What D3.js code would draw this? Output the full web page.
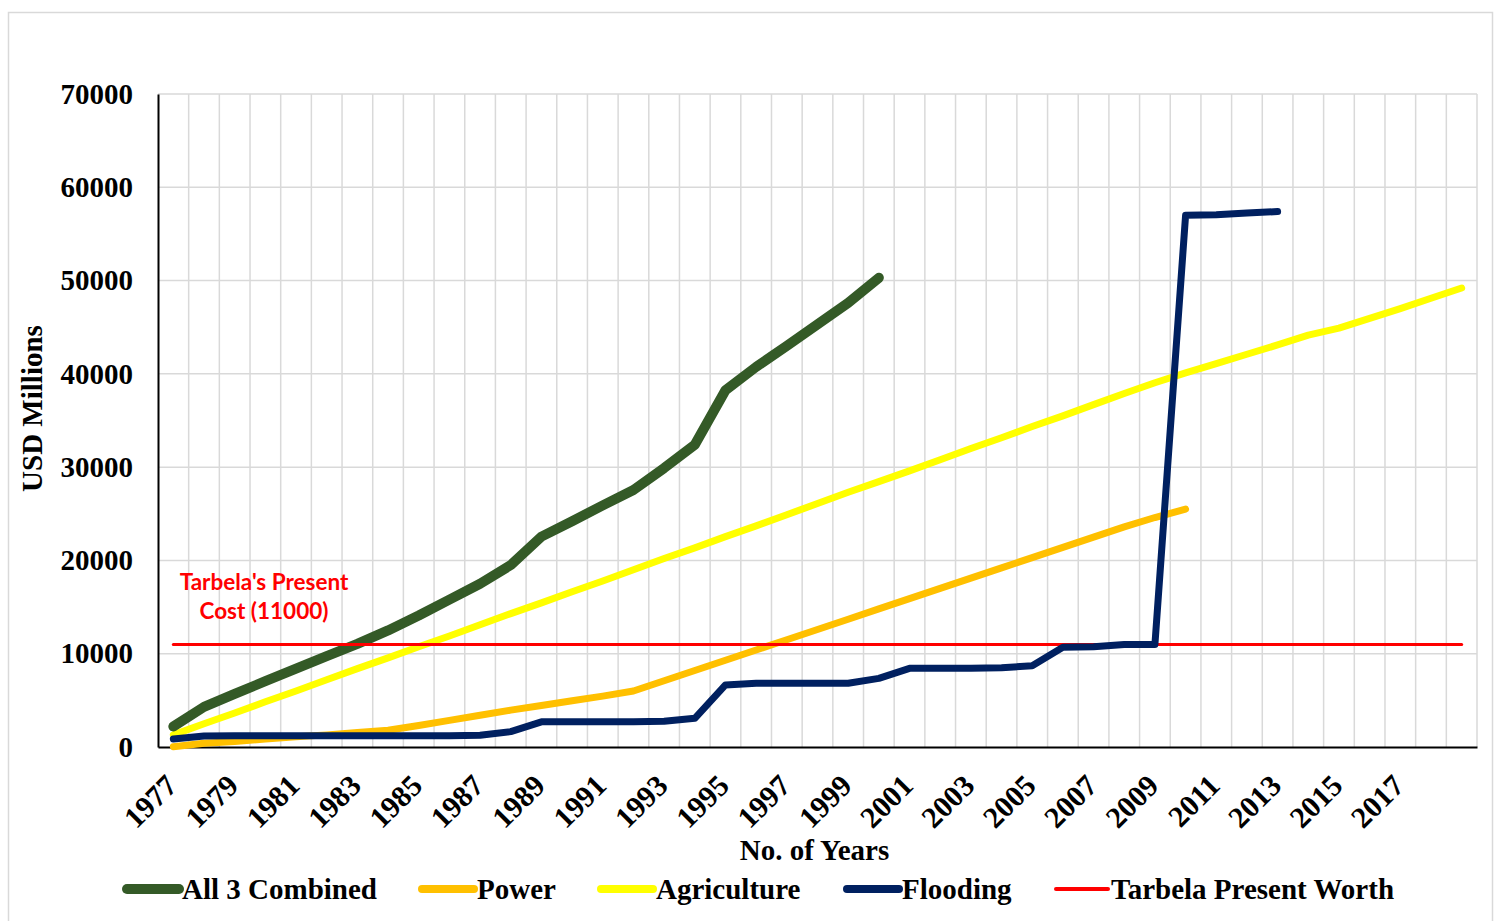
<!DOCTYPE html>
<html>
<head>
<meta charset="utf-8">
<script src="https://cdn.jsdelivr.net/npm/d3@7"></script>
<style>
  body { margin: 0; background: #fff; }
  svg { display: block; }
</style>
</head>
<body>
<div id="chart"></div>
<script>
// years on the category axis
const years = d3.range(1977, 2020);

// series values (USD millions)
const combined = [2200, 4300, 5700, 7050, 8400, 9750, 11050, 12500, 14100, 15800, 17500, 19500,
                  22550, 24200, 25900, 27550, 29900, 32400, 38250, 40750, 43000, 45300, 47600, 50300];
const power = [30, 400, 600, 850, 1100, 1300, 1550, 1800, 2300, 2850, 3400, 3950, 4450, 4950, 5450, 6000,
               7100, 8200, 9300, 10400, 11500, 12600, 13700, 14800, 15900, 17000, 18100, 19200, 20300,
               21400, 22500, 23600, 24600, 25500];
const agriculture = [1300, 2500, 3650, 4850, 6000, 7200, 8400, 9550, 10750, 11900, 13100, 14300, 15450,
                     16650, 17800, 19000, 20200, 21350, 22550, 23700, 24900, 26100, 27300, 28450, 29600,
                     30800, 32000, 33150, 34350, 35500, 36700, 37900, 39050, 40100, 41100, 42100, 43100,
                     44150, 44900, 45950, 47000, 48100, 49200];
const flooding = [860, 1180, 1200, 1200, 1200, 1200, 1200, 1200, 1200, 1200, 1250, 1650, 2700, 2700,
                  2700, 2700, 2750, 3080, 6650, 6830, 6830, 6830, 6830, 7360, 8430, 8450, 8450, 8500,
                  8700, 10700, 10750, 11000, 11000, 57000, 57050, 57250, 57400];
const presentWorth = years.map(() => 11000);

const yTicks = [0, 10000, 20000, 30000, 40000, 50000, 60000, 70000];
const xTickYears = years.filter(y => (y - 1977) % 2 === 0 && y <= 2017);

const series = [
    {name: 'All 3 Combined', values: combined, color: '#345a27', width: 10},
    {name: 'Power', values: power, color: '#ffc000', width: 7},
    {name: 'Agriculture', values: agriculture, color: '#ffff00', width: 7},
    {name: 'Flooding', values: flooding, color: '#002060', width: 7},
    {name: 'Tarbela Present Worth', values: presentWorth, color: '#ff0000', width: 3}
];
// drawing order: agriculture/power under combined, flooding on top of power
const drawOrder = ['Agriculture', 'Power', 'All 3 Combined', 'Tarbela Present Worth', 'Flooding'];

const serif = '"Liberation Serif", "Times New Roman", serif';
const W = 1499, H = 921;
const margin = {top: 94, right: 22, bottom: 174, left: 158};

const svg = d3.select('#chart').append('svg')
    .attr('width', W)
    .attr('height', H);

// outer chart border
svg.append('rect')
    .attr('x', 8.5).attr('y', 12.5)
    .attr('width', 1484).attr('height', 930)
    .attr('fill', 'none')
    .attr('stroke', '#d9d9d9')
    .attr('stroke-width', 1.5);

const x = d3.scaleBand()
    .domain(years)
    .range([margin.left, W - margin.right])
    .padding(0);

const y = d3.scaleLinear()
    .domain([0, 70000])
    .range([H - margin.bottom, margin.top]);

const cx = yr => x(yr) + x.bandwidth() / 2;

// grid
const grid = svg.append('g').attr('stroke', '#d9d9d9').attr('stroke-width', 1.5);
grid.selectAll('line.h')
    .data(yTicks.slice(1))
    .join('line')
    .attr('x1', margin.left).attr('x2', W - margin.right)
    .attr('y1', d => y(d)).attr('y2', d => y(d));
grid.selectAll('line.v')
    .data(years.map(yr => x(yr) + x.bandwidth()))
    .join('line')
    .attr('x1', d => d).attr('x2', d => d)
    .attr('y1', margin.top).attr('y2', y(0));

// y axis
const yAxis = svg.append('g')
    .attr('transform', `translate(${margin.left},0)`)
    .call(d3.axisLeft(y).tickValues(yTicks).tickSize(0).tickPadding(25).tickFormat(d3.format('d')));
yAxis.select('.domain').attr('stroke', '#000').attr('stroke-width', 2);
yAxis.selectAll('text')
    .attr('font-family', serif)
    .attr('font-weight', 'bold')
    .attr('font-size', 29)
    .attr('fill', '#000');

// x axis
const xAxis = svg.append('g')
    .attr('transform', `translate(0,${y(0)})`)
    .call(d3.axisBottom(x).tickValues(xTickYears).tickSize(0));
xAxis.select('.domain').attr('stroke', '#000').attr('stroke-width', 2);
xAxis.selectAll('text')
    .attr('font-family', serif)
    .attr('font-weight', 'bold')
    .attr('font-size', 30)
    .attr('fill', '#000')
    .attr('text-anchor', 'end')
    .attr('y', 0).attr('dy', '0.35em')
    .attr('transform', 'translate(-2,33) rotate(-45)');

// axis titles
svg.append('text')
    .attr('transform', `translate(42,${(margin.top + y(0)) / 2 - 12}) rotate(-90)`)
    .attr('text-anchor', 'middle')
    .attr('font-family', serif)
    .attr('font-weight', 'bold')
    .attr('font-size', 29)
    .text('USD Millions');

svg.append('text')
    .attr('x', (margin.left + W - margin.right) / 2 - 3)
    .attr('y', 860)
    .attr('text-anchor', 'middle')
    .attr('font-family', serif)
    .attr('font-weight', 'bold')
    .attr('font-size', 29)
    .text('No. of Years');

// lines
const line = d3.line()
    .x((d, i) => cx(years[i]))
    .y(d => y(d));

const byName = new Map(series.map(s => [s.name, s]));
svg.append('g').selectAll('path')
    .data(drawOrder.map(n => byName.get(n)))
    .join('path')
    .attr('d', d => line(d.values))
    .attr('fill', 'none')
    .attr('stroke', d => d.color)
    .attr('stroke-width', d => d.width)
    .attr('stroke-linejoin', 'round')
    .attr('stroke-linecap', 'round');

// annotation
const note = svg.append('text')
    .attr('text-anchor', 'middle')
    .attr('font-family', 'Lato, "Open Sans", sans-serif')
    .attr('font-weight', 'bold')
    .attr('font-size', 22.5)
    .attr('fill', '#ff0000');
note.append('tspan').attr('x', 264).attr('y', 590).text("Tarbela's Present");
note.append('tspan').attr('x', 264).attr('y', 619).text('Cost (11000)');

// legend
const legendX = [123, 418, 597, 843, 1052];
const legend = svg.append('g')
    .selectAll('g')
    .data(series)
    .join('g')
    .attr('transform', (d, i) => `translate(${legendX[i]},889)`);
legend.append('line')
    .attr('x1', 4).attr('x2', 56)
    .attr('stroke', d => d.color)
    .attr('stroke-width', d => d.name === 'Tarbela Present Worth' ? 4 : (d.width > 8 ? 10 : 8))
    .attr('stroke-linecap', 'round');
legend.append('text')
    .attr('x', 59)
    .attr('dy', '0.35em')
    .attr('font-family', serif)
    .attr('font-weight', 'bold')
    .attr('font-size', 29)
    .text(d => d.name);
</script>
</body>
</html>
